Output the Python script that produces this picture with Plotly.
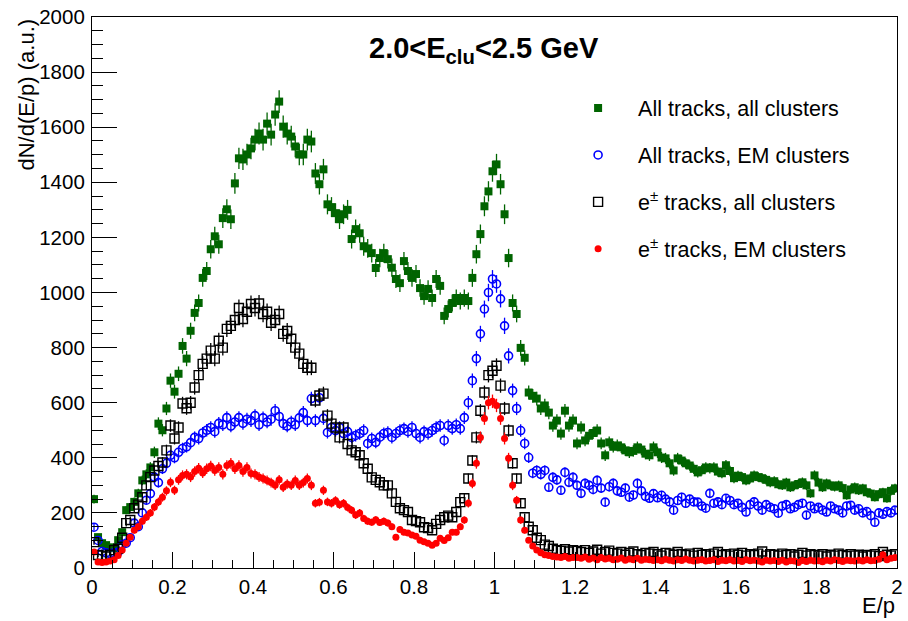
import numpy as np
import plotly.graph_objects as go

# E/p bin centres (200 bins of width 0.01 from 0 to 2)
ep = np.round(np.arange(200) * 0.01 + 0.005, 3)

all_tracks_all_clusters = [
    250, 112, 90, 83, 75, 72, 101, 130, 210, 221,
    240, 271, 318, 340, 365, 420, 524, 500, 579, 680,
    640, 705, 806, 760, 861, 926, 962, 1053, 1078, 1157,
    1204, 1175, 1270, 1302, 1266, 1396, 1487, 1483, 1501, 1523,
    1555, 1577, 1555, 1613, 1573, 1646, 1693, 1602, 1577, 1566,
    1530, 1501, 1501, 1555, 1548, 1432, 1393, 1447, 1320, 1310,
    1288, 1266, 1284, 1300, 1194, 1230, 1215, 1168, 1160, 1143,
    1089, 1125, 1143, 1121, 1090, 1049, 1034, 1114, 1078, 1053,
    1067, 1016, 987, 1013, 980, 1049, 1024, 915, 940, 962,
    980, 969, 980, 969, 1053, 1139, 1212, 1313, 1367, 1440,
    1465, 1393, 1284, 1125, 962, 922, 799, 763, 637, 625,
    615, 579, 590, 564, 517, 535, 488, 571, 517, 535,
    452, 510, 463, 480, 490, 499, 452, 409, 456, 440,
    445, 438, 427, 420, 425, 438, 430, 415, 409, 438,
    420, 401, 398, 380, 354, 398, 390, 380, 372, 360,
    347, 355, 365, 362, 365, 350, 344, 373, 352, 326,
    335, 330, 318, 325, 336, 330, 326, 320, 311, 315,
    304, 300, 310, 293, 300, 305, 311, 300, 271, 336,
    310, 293, 307, 300, 295, 300, 290, 264, 285, 293,
    282, 289, 275, 270, 257, 268, 275, 253, 280, 289,
]

all_tracks_em_clusters = [
    148, 100, 60, 55, 52, 55, 58, 85, 90, 110,
    163, 150, 200, 246, 270, 330, 310, 360, 380, 409,
    400, 420, 434, 440, 455, 474, 470, 490, 500, 510,
    495, 525, 520, 546, 515, 530, 546, 525, 540, 535,
    553, 520, 545, 530, 540, 571, 550, 524, 515, 530,
    520, 545, 564, 535, 615, 535, 618, 543, 492, 510,
    499, 510, 488, 495, 474, 481, 488, 499, 452, 470,
    456, 475, 488, 492, 474, 488, 499, 506, 495, 510,
    488, 474, 495, 488, 499, 510, 517, 463, 517, 506,
    520, 506, 546, 600, 680, 760, 850, 940, 1000, 1049,
    1031, 977, 879, 770, 644, 579, 499, 452, 401, 344,
    354, 340, 354, 293, 329, 320, 282, 347, 311, 329,
    300, 271, 307, 300, 285, 318, 290, 239, 295, 307,
    280, 275, 290, 257, 265, 307, 280, 260, 253, 270,
    255, 264, 250, 240, 210, 245, 257, 235, 250, 240,
    239, 225, 217, 271, 235, 240, 230, 253, 245, 230,
    235, 220, 203, 230, 240, 225, 210, 230, 220, 215,
    199, 225, 230, 215, 220, 230, 235, 192, 225, 215,
    220, 210, 203, 225, 215, 210, 200, 225, 228, 210,
    215, 200, 205, 190, 166, 200, 195, 205, 200, 210,
]

e_tracks_all_clusters = [
    94, 47, 45, 42, 48, 65, 70, 110, 163, 174,
    217, 230, 257, 300, 330, 354, 370, 383, 427, 517,
    470, 510, 597, 580, 600, 655, 700, 741, 760, 789,
    760, 825, 800, 868, 879, 900, 944, 904, 930, 958,
    944, 960, 922, 930, 890, 900, 922, 850, 860, 832,
    800, 778, 741, 727, 727, 608, 626, 633, 553, 524,
    510, 474, 510, 450, 427, 420, 409, 380, 360, 329,
    320, 311, 300, 300, 271, 240, 217, 210, 203, 174,
    170, 166, 148, 145, 137, 160, 174, 184, 190, 184,
    203, 239, 253, 325, 390, 474, 571, 637, 700, 716,
    734, 662, 579, 499, 380, 325, 235, 184, 150, 137,
    110, 101, 85, 80, 70, 65, 62, 68, 60, 65,
    62, 58, 65, 55, 60, 66, 52, 58, 63, 55,
    52, 58, 48, 55, 60, 50, 47, 55, 52, 58,
    50, 45, 55, 52, 48, 58, 50, 47, 52, 45,
    55, 48, 50, 45, 52, 58, 47, 50, 45, 52,
    48, 55, 45, 50, 47, 52, 60, 45, 50, 48,
    45, 52, 47, 50, 42, 48, 55, 45, 50, 47,
    45, 50, 42, 48, 45, 52, 47, 43, 50, 45,
    48, 42, 47, 45, 50, 43, 58, 48, 45, 50,
]

e_tracks_em_clusters = [
    58, 22, 20, 22, 25, 30, 45, 65, 90, 112,
    137, 150, 170, 184, 200, 221, 240, 257, 280, 311,
    282, 320, 336, 340, 330, 350, 362, 345, 360, 370,
    354, 365, 340, 372, 380, 360, 372, 350, 365, 343,
    340, 330, 325, 318, 310, 300, 320, 293, 305, 300,
    318, 300, 310, 325, 300, 235, 239, 282, 240, 235,
    245, 230, 235, 220, 210, 192, 200, 180, 170, 166,
    175, 165, 170, 163, 150, 112, 140, 130, 127, 120,
    115, 101, 95, 90, 83, 90, 108, 100, 110, 130,
    130, 150, 174, 235, 307, 380, 474, 543, 600, 605,
    590, 543, 470, 398, 300, 246, 174, 137, 101, 80,
    65, 55, 48, 45, 42, 40, 38, 42, 35, 38,
    38, 35, 40, 32, 36, 30, 38, 33, 35, 30,
    32, 36, 28, 33, 30, 35, 28, 32, 30, 27,
    30, 26, 32, 28, 25, 30, 27, 33, 28, 25,
    28, 30, 25, 27, 30, 24, 28, 26, 30, 25,
    27, 24, 30, 26, 28, 25, 22, 28, 25, 27,
    24, 28, 22, 26, 25, 20, 27, 24, 28, 25,
    26, 23, 28, 25, 30, 27, 24, 28, 26, 25,
    28, 25, 30, 26, 27, 32, 48, 30, 35, 38,
]

series_names = [
    "All tracks, all clusters",
    "All tracks, EM clusters",
    "e<sup>±</sup> tracks, all clusters",
    "e<sup>±</sup> tracks, EM clusters",
]

FONT = "Liberation Sans, Arial, Helvetica, sans-serif"
GREEN = "#006400"

fig = go.Figure()

styles = [
    (all_tracks_all_clusters, dict(symbol="square", size=8, color=GREEN), GREEN),
    (all_tracks_em_clusters, dict(symbol="circle-open", size=8, color="#0000ff",
                                  line=dict(width=1.6, color="#0000ff")), "#0000ff"),
    (e_tracks_all_clusters, dict(symbol="square-open", size=9, color="black",
                                 line=dict(width=1.4, color="black")), "black"),
    (e_tracks_em_clusters, dict(symbol="circle", size=7, color="#ff0000"), "#ff0000"),
]

for i, (vals, mk, col) in enumerate(styles):
    v = np.array(vals, dtype=float)
    fig.add_trace(go.Scatter(
        x=ep, y=v, mode="markers", name=series_names[i],
        marker=mk,
        error_y=dict(type="data", array=np.sqrt(v), color=col, thickness=1.3, width=0),
        legendgroup=f"g{i}",
    ))

fig.update_layout(
    width=908, height=621,
    margin=dict(l=92, r=5, t=15, b=53),
    paper_bgcolor="white", plot_bgcolor="white",
    font=dict(family=FONT, size=20, color="black"),
    showlegend=True,
    legend=dict(
        x=0.579, y=0.872, xanchor="left", yanchor="top",
        bgcolor="rgba(0,0,0,0)", borderwidth=0,
        font=dict(family=FONT, size=21.5, color="black"),
        tracegroupgap=16, traceorder="grouped", itemwidth=70,
    ),
    xaxis=dict(
        range=[0, 2], dtick=0.2, tick0=0, showgrid=False, zeroline=False,
        showline=True, linecolor="black", linewidth=1.2, mirror=True,
        ticks="inside", ticklen=16, tickwidth=1.2, tickcolor="black",
        minor=dict(ticks="inside", dtick=0.05, ticklen=8, tickwidth=1.2, tickcolor="black", showgrid=False),
        tickfont=dict(family=FONT, size=20.5),
    ),
    yaxis=dict(
        range=[0, 2000], dtick=200, tick0=0, showgrid=False, zeroline=False,
        showline=True, linecolor="black", linewidth=1.2, mirror=True,
        ticks="inside", ticklen=25, tickwidth=1.2, tickcolor="black",
        minor=dict(ticks="inside", dtick=50, ticklen=11, tickwidth=1.2, tickcolor="black", showgrid=False),
        tickfont=dict(family=FONT, size=20.5),
        ticklabelstandoff=2,
    ),
    annotations=[
        dict(text="<b>2.0&lt;E<sub>clu</sub>&lt;2.5 GeV</b>", xref="paper", yref="paper",
             x=0.487, y=0.94, xanchor="center", yanchor="middle", showarrow=False,
             font=dict(family=FONT, size=29, color="black")),
        dict(text="E/p", xref="paper", yref="paper", x=1.0, y=-0.068,
             xanchor="right", yanchor="middle", showarrow=False,
             font=dict(family=FONT, size=22, color="black")),
        dict(text="dN/d(E/p) (a.u.)", xref="paper", yref="paper", x=-0.0826, y=1.0,
             xanchor="center", yanchor="top", textangle=-90, showarrow=False,
             font=dict(family=FONT, size=22, color="black")),
    ],
)

fig.write_html("out.html")
